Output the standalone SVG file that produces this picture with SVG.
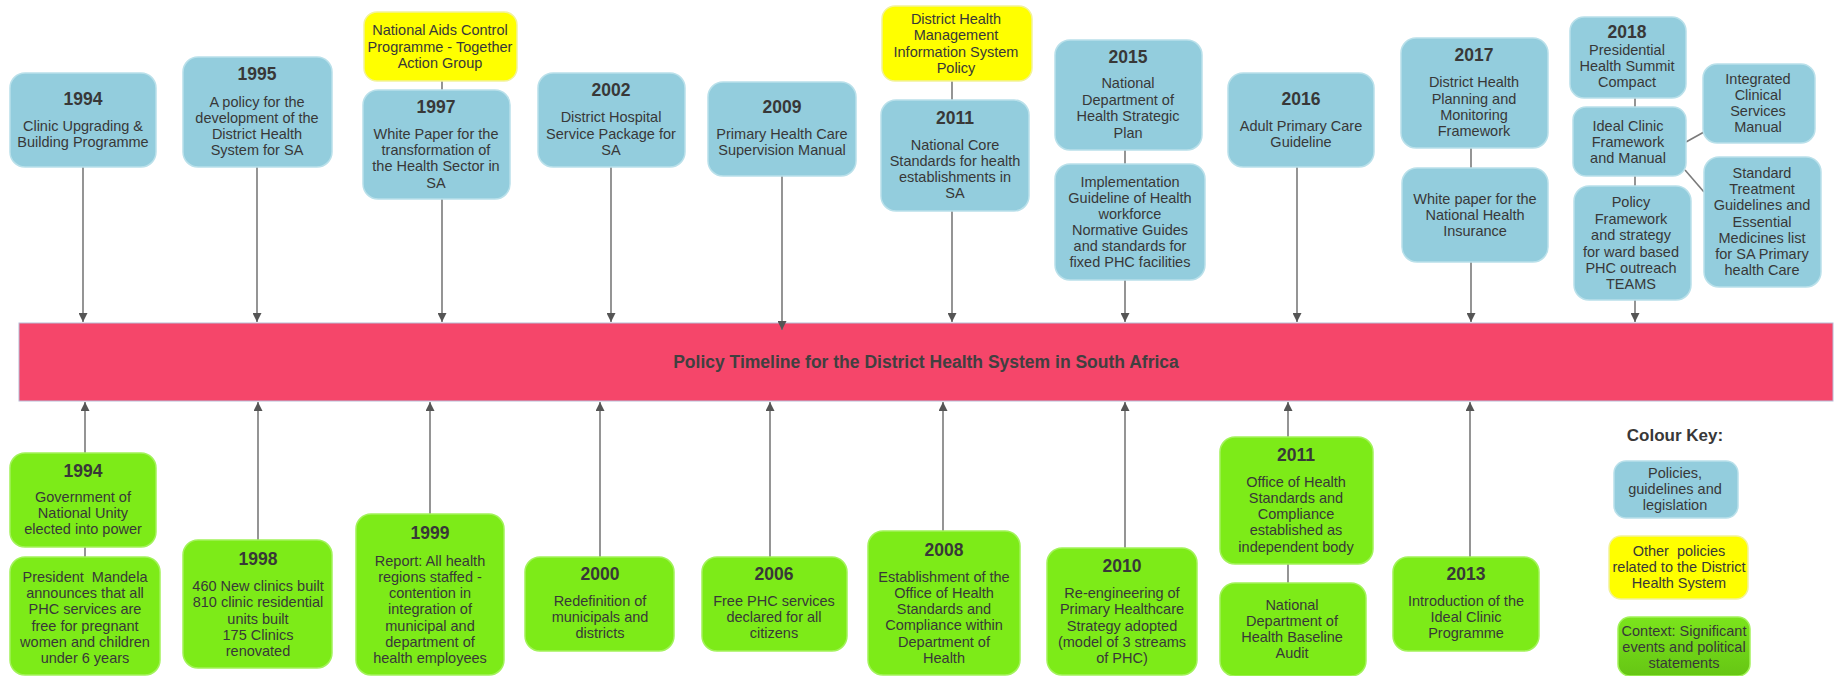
<svg xmlns="http://www.w3.org/2000/svg" width="1836" height="676" viewBox="0 0 1836 676">
<defs>
<style>
.b{fill:#93CDDD;stroke:#B9E0EA;stroke-width:1.5}
.g{fill:#7DEB18;stroke:#A2F25A;stroke-width:1.5}
.yl{fill:#FFFF00;stroke:#F2F29A;stroke-width:1.5}
text{font-family:"Liberation Sans",Arial,sans-serif;fill:#383838;text-anchor:middle}
.t{font-size:14.5px}
.yr{font-size:17.5px;font-weight:bold}
.c{stroke:#7a7a7a;stroke-width:1.6;fill:none}
.a{stroke:#7a7a7a;stroke-width:1.6;fill:none;marker-end:url(#ah)}
.pre{white-space:pre}
</style>
<marker id="ah" viewBox="0 0 10 10" refX="10" refY="5" markerUnits="userSpaceOnUse" markerWidth="10" markerHeight="9" orient="auto">
<path d="M0,0 L10,5 L0,10 z" fill="#555"/>
</marker>
<linearGradient id="lg" x1="0" y1="0" x2="0" y2="1">
<stop offset="0" stop-color="#7BE41C"/>
<stop offset="1" stop-color="#66C614"/>
</linearGradient>
</defs>
<rect width="1836" height="676" fill="#FFFFFF"/>

<g id="timeline-bar">
<rect x="19" y="323" width="1814" height="78" fill="#F5466A" stroke="#B8BCD6" stroke-width="1"/>
<text x="926" y="368" style="font-size:17.5px;font-weight:bold;fill:#404040">Policy Timeline for the District Health System in South Africa</text>
</g>

<g id="connectors">
<line class="a" x1="83" y1="167" x2="83" y2="322"/>
<line class="a" x1="257" y1="167" x2="257" y2="322"/>
<line class="c" x1="442" y1="81" x2="442" y2="90"/>
<line class="a" x1="442" y1="199" x2="442" y2="322"/>
<line class="a" x1="611" y1="167" x2="611" y2="322"/>
<line class="a" x1="782" y1="176" x2="782" y2="330"/>
<line class="c" x1="952" y1="81" x2="952" y2="100"/>
<line class="a" x1="952" y1="211" x2="952" y2="322"/>
<line class="c" x1="1125" y1="150" x2="1125" y2="164"/>
<line class="a" x1="1125" y1="280" x2="1125" y2="322"/>
<line class="a" x1="1297" y1="167" x2="1297" y2="322"/>
<line class="c" x1="1471" y1="148" x2="1471" y2="168"/>
<line class="a" x1="1471" y1="262" x2="1471" y2="322"/>
<line class="c" x1="1635" y1="98" x2="1635" y2="107"/>
<line class="c" x1="1635" y1="176" x2="1635" y2="186"/>
<line class="a" x1="1635" y1="300" x2="1635" y2="322"/>
<line class="c" x1="1686" y1="142" x2="1704" y2="132"/>
<line class="c" x1="1685" y1="170" x2="1704" y2="192"/>

<line class="a" x1="85" y1="453" x2="85" y2="402"/>
<line class="c" x1="85" y1="547" x2="85" y2="557"/>
<line class="a" x1="258" y1="540" x2="258" y2="402"/>
<line class="a" x1="430" y1="514" x2="430" y2="402"/>
<line class="a" x1="600" y1="557" x2="600" y2="402"/>
<line class="a" x1="770" y1="557" x2="770" y2="402"/>
<line class="a" x1="943" y1="531" x2="943" y2="402"/>
<line class="a" x1="1125" y1="548" x2="1125" y2="402"/>
<line class="a" x1="1288" y1="437" x2="1288" y2="402"/>
<line class="c" x1="1288" y1="564" x2="1288" y2="583"/>
<line class="a" x1="1470" y1="557" x2="1470" y2="402"/>
</g>

<g id="t1994"><rect class="b" x="10" y="73" width="146" height="94" rx="15"/>
<text class="yr" x="83" y="105">1994</text>
<text class="t" x="83" y="131">Clinic Upgrading &amp;</text>
<text class="t" x="83" y="147">Building Programme</text></g>

<g id="t1995"><rect class="b" x="183" y="57" width="149" height="110" rx="15"/>
<text class="yr" x="257" y="80">1995</text>
<text class="t" x="257" y="107">A policy for the</text>
<text class="t" x="257" y="123">development of the</text>
<text class="t" x="257" y="139">District Health</text>
<text class="t" x="257" y="155">System for SA</text></g>

<g id="nacp"><rect class="yl" x="364" y="12" width="153" height="69" rx="13"/>
<text class="t" x="440" y="35">National Aids Control</text>
<text class="t" x="440" y="52">Programme - Together</text>
<text class="t" x="440" y="68">Action Group</text></g>

<g id="t1997"><rect class="b" x="363" y="90" width="147" height="109" rx="15"/>
<text class="yr" x="436" y="113">1997</text>
<text class="t" x="436" y="139">White Paper for the</text>
<text class="t" x="436" y="155">transformation of</text>
<text class="t" x="436" y="171">the Health Sector in</text>
<text class="t" x="436" y="188">SA</text></g>

<g id="t2002"><rect class="b" x="538" y="73" width="147" height="94" rx="15"/>
<text class="yr" x="611" y="96">2002</text>
<text class="t" x="611" y="122">District Hospital</text>
<text class="t" x="611" y="139">Service Package for</text>
<text class="t" x="611" y="155">SA</text></g>

<g id="t2009"><rect class="b" x="708" y="82" width="148" height="94" rx="15"/>
<text class="yr" x="782" y="113">2009</text>
<text class="t" x="782" y="139">Primary Health Care</text>
<text class="t" x="782" y="155">Supervision Manual</text></g>

<g id="dhmis"><rect class="yl" x="882" y="6" width="150" height="75" rx="13"/>
<text class="t" x="956" y="24">District Health</text>
<text class="t" x="956" y="40">Management</text>
<text class="t" x="956" y="57">Information System</text>
<text class="t" x="956" y="73">Policy</text></g>

<g id="t2011"><rect class="b" x="881" y="100" width="148" height="111" rx="15"/>
<text class="yr" x="955" y="124">2011</text>
<text class="t" x="955" y="150">National Core</text>
<text class="t" x="955" y="166">Standards for health</text>
<text class="t" x="955" y="182">establishments in</text>
<text class="t" x="955" y="198">SA</text></g>

<g id="t2015"><rect class="b" x="1055" y="40" width="147" height="110" rx="15"/>
<text class="yr" x="1128" y="63">2015</text>
<text class="t" x="1128" y="88">National</text>
<text class="t" x="1128" y="105">Department of</text>
<text class="t" x="1128" y="121">Health Strategic</text>
<text class="t" x="1128" y="138">Plan</text></g>

<g id="impl"><rect class="b" x="1055" y="164" width="150" height="116" rx="15"/>
<text class="t" x="1130" y="187">Implementation</text>
<text class="t" x="1130" y="203">Guideline of Health</text>
<text class="t" x="1130" y="219">workforce</text>
<text class="t" x="1130" y="235">Normative Guides</text>
<text class="t" x="1130" y="251">and standards for</text>
<text class="t" x="1130" y="267">fixed PHC facilities</text></g>

<g id="t2016"><rect class="b" x="1228" y="73" width="146" height="94" rx="15"/>
<text class="yr" x="1301" y="105">2016</text>
<text class="t" x="1301" y="131">Adult Primary Care</text>
<text class="t" x="1301" y="147">Guideline</text></g>

<g id="t2017"><rect class="b" x="1401" y="38" width="147" height="110" rx="15"/>
<text class="yr" x="1474" y="61">2017</text>
<text class="t" x="1474" y="87">District Health</text>
<text class="t" x="1474" y="104">Planning and</text>
<text class="t" x="1474" y="120">Monitoring</text>
<text class="t" x="1474" y="136">Framework</text></g>

<g id="nhi"><rect class="b" x="1402" y="168" width="146" height="94" rx="15"/>
<text class="t" x="1475" y="204">White paper for the</text>
<text class="t" x="1475" y="220">National Health</text>
<text class="t" x="1475" y="236">Insurance</text></g>

<g id="t2018"><rect class="b" x="1570" y="17" width="116" height="81" rx="14"/>
<text class="yr" x="1627" y="38">2018</text>
<text class="t" x="1627" y="55">Presidential</text>
<text class="t" x="1627" y="71">Health Summit</text>
<text class="t" x="1627" y="87">Compact</text></g>

<g id="ideal"><rect class="b" x="1573" y="107" width="113" height="69" rx="13"/>
<text class="t" x="1628" y="131">Ideal Clinic</text>
<text class="t" x="1628" y="147">Framework</text>
<text class="t" x="1628" y="163">and Manual</text></g>

<g id="wbpho"><rect class="b" x="1574" y="186" width="117" height="114" rx="15"/>
<text class="t" x="1631" y="207">Policy</text>
<text class="t" x="1631" y="224">Framework</text>
<text class="t" x="1631" y="240">and strategy</text>
<text class="t" x="1631" y="257">for ward based</text>
<text class="t" x="1631" y="273">PHC outreach</text>
<text class="t" x="1631" y="289">TEAMS</text></g>

<g id="icsm"><rect class="b" x="1703" y="64" width="112" height="79" rx="14"/>
<text class="t" x="1758" y="84">Integrated</text>
<text class="t" x="1758" y="100">Clinical</text>
<text class="t" x="1758" y="116">Services</text>
<text class="t" x="1758" y="132">Manual</text></g>

<g id="stg"><rect class="b" x="1704" y="157" width="117" height="130" rx="15"/>
<text class="t" x="1762" y="178">Standard</text>
<text class="t" x="1762" y="194">Treatment</text>
<text class="t" x="1762" y="210">Guidelines and</text>
<text class="t" x="1762" y="227">Essential</text>
<text class="t" x="1762" y="243">Medicines list</text>
<text class="t" x="1762" y="259">for SA Primary</text>
<text class="t" x="1762" y="275">health Care</text></g>

<g id="b1994"><rect class="g" x="10" y="453" width="146" height="94" rx="15"/>
<text class="yr" x="83" y="477">1994</text>
<text class="t" x="83" y="502">Government of</text>
<text class="t" x="83" y="518">National Unity</text>
<text class="t" x="83" y="534">elected into power</text></g>

<g id="mandela"><rect class="g" x="10" y="557" width="150" height="118" rx="15"/>
<text class="t pre" x="85" y="582">President  Mandela</text>
<text class="t" x="85" y="598">announces that all</text>
<text class="t" x="85" y="614">PHC services are</text>
<text class="t" x="85" y="631">free for pregnant</text>
<text class="t" x="85" y="647">women and children</text>
<text class="t" x="85" y="663">under 6 years</text></g>

<g id="b1998"><rect class="g" x="183" y="540" width="149" height="128" rx="15"/>
<text class="yr" x="258" y="565">1998</text>
<text class="t" x="258" y="591">460 New clinics built</text>
<text class="t" x="258" y="607">810 clinic residential</text>
<text class="t" x="258" y="624">units built</text>
<text class="t" x="258" y="640">175 Clinics</text>
<text class="t" x="258" y="656">renovated</text></g>

<g id="b1999"><rect class="g" x="356" y="514" width="148" height="161" rx="15"/>
<text class="yr" x="430" y="539">1999</text>
<text class="t" x="430" y="566">Report: All health</text>
<text class="t" x="430" y="582">regions staffed -</text>
<text class="t" x="430" y="598">contention in</text>
<text class="t" x="430" y="614">integration of</text>
<text class="t" x="430" y="631">municipal and</text>
<text class="t" x="430" y="647">department of</text>
<text class="t" x="430" y="663">health employees</text></g>

<g id="b2000"><rect class="g" x="525" y="557" width="149" height="94" rx="15"/>
<text class="yr" x="600" y="580">2000</text>
<text class="t" x="600" y="606">Redefinition of</text>
<text class="t" x="600" y="622">municipals and</text>
<text class="t" x="600" y="638">districts</text></g>

<g id="b2006"><rect class="g" x="702" y="557" width="145" height="94" rx="15"/>
<text class="yr" x="774" y="580">2006</text>
<text class="t" x="774" y="606">Free PHC services</text>
<text class="t" x="774" y="622">declared for all</text>
<text class="t" x="774" y="638">citizens</text></g>

<g id="b2008"><rect class="g" x="868" y="531" width="152" height="144" rx="15"/>
<text class="yr" x="944" y="556">2008</text>
<text class="t" x="944" y="582">Establishment of the</text>
<text class="t" x="944" y="598">Office of Health</text>
<text class="t" x="944" y="614">Standards and</text>
<text class="t" x="944" y="630">Compliance within</text>
<text class="t" x="944" y="647">Department of</text>
<text class="t" x="944" y="663">Health</text></g>

<g id="b2010"><rect class="g" x="1047" y="548" width="150" height="127" rx="15"/>
<text class="yr" x="1122" y="572">2010</text>
<text class="t" x="1122" y="598">Re-engineering of</text>
<text class="t" x="1122" y="614">Primary Healthcare</text>
<text class="t" x="1122" y="631">Strategy adopted</text>
<text class="t" x="1122" y="647">(model of 3 streams</text>
<text class="t" x="1122" y="663">of PHC)</text></g>

<g id="b2011"><rect class="g" x="1220" y="437" width="153" height="127" rx="15"/>
<text class="yr" x="1296" y="461">2011</text>
<text class="t" x="1296" y="487">Office of Health</text>
<text class="t" x="1296" y="503">Standards and</text>
<text class="t" x="1296" y="519">Compliance</text>
<text class="t" x="1296" y="535">established as</text>
<text class="t" x="1296" y="552">independent body</text></g>

<g id="audit"><rect class="g" x="1220" y="583" width="146" height="93" rx="15"/>
<text class="t" x="1292" y="610">National</text>
<text class="t" x="1292" y="626">Department of</text>
<text class="t" x="1292" y="642">Health Baseline</text>
<text class="t" x="1292" y="658">Audit</text></g>

<g id="b2013"><rect class="g" x="1393" y="557" width="146" height="94" rx="15"/>
<text class="yr" x="1466" y="580">2013</text>
<text class="t" x="1466" y="606">Introduction of the</text>
<text class="t" x="1466" y="622">Ideal Clinic</text>
<text class="t" x="1466" y="638">Programme</text></g>

<g id="legend">
<text x="1675" y="441" style="font-size:17px;font-weight:bold">Colour Key:</text>
<rect class="b" x="1614" y="461" width="124" height="57" rx="12"/>
<text class="t" x="1675" y="478">Policies,</text>
<text class="t" x="1675" y="494">guidelines and</text>
<text class="t" x="1675" y="510">legislation</text>
<rect class="yl" x="1609" y="536" width="139" height="63" rx="12"/>
<text class="t pre" x="1679" y="556">Other  policies</text>
<text class="t" x="1679" y="572">related to the District</text>
<text class="t" x="1679" y="588">Health System</text>
<rect x="1618" y="617" width="132" height="59" rx="12" fill="url(#lg)" stroke="#A2F25A" stroke-width="1.5"/>
<text class="t" x="1684" y="636">Context: Significant</text>
<text class="t" x="1684" y="652">events and political</text>
<text class="t" x="1684" y="668">statements</text>
</g>
</svg>
